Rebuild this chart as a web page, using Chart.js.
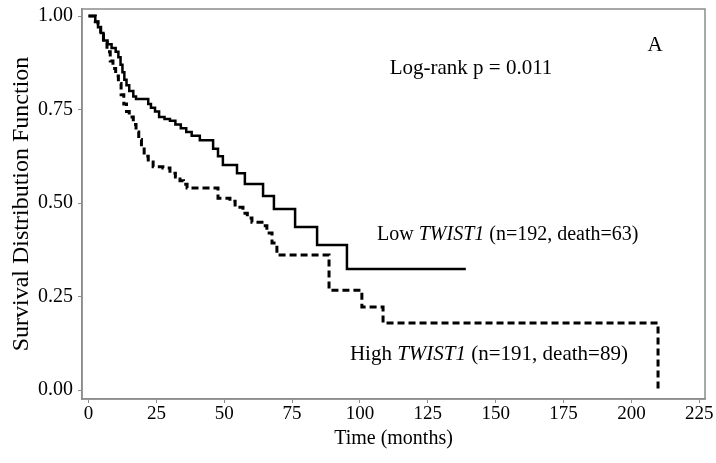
<!DOCTYPE html>
<html>
<head>
<meta charset="utf-8">
<script src="https://cdn.jsdelivr.net/npm/chart.js@4"></script>
<style>
  body { margin: 0; background: #fff; }
  canvas { display: block; }
</style>
</head>
<body>
<canvas id="km" width="716" height="463"></canvas>
<script>
// Kaplan-Meier step data (time in months, survival after the drop)
const lowTimes = [0, 2.5, 3.5, 4.5, 5.5, 7, 8.5, 10, 11, 11.8, 12.5, 13.2, 14, 15, 16.5, 17.5,
  22, 23, 24.5, 26, 28, 30, 32, 34, 36, 38, 41, 45.9, 47.7, 49.5, 54.7, 57.6, 64.3, 68.3, 76.1, 84.2, 95.2, 139];
const lowSurv = [1, 0.985, 0.97, 0.955, 0.935, 0.925, 0.915, 0.905, 0.89, 0.87, 0.85, 0.83, 0.815, 0.8, 0.785, 0.778,
  0.765, 0.755, 0.745, 0.73, 0.725, 0.72, 0.71, 0.7, 0.69, 0.68, 0.668, 0.645, 0.625, 0.602, 0.58, 0.551, 0.519, 0.484, 0.436, 0.388, 0.324, 0.324];

const highTimes = [0, 2.5, 3.5, 4.5, 5.5, 6.8, 8, 9, 10, 11, 12, 13, 14, 15, 16.5, 17.5, 18.5, 19.5, 20.5, 22, 23.8,
  27.4, 30, 32, 33.7, 35, 36.3, 47.7, 52.1, 54, 56.9, 58.5, 60.2, 63.9, 65.7, 67.6, 69.4, 88.6, 100.7, 108.5, 209.8];
const highSurv = [1, 0.985, 0.97, 0.95, 0.93, 0.905, 0.88, 0.86, 0.84, 0.82, 0.79, 0.765, 0.745, 0.73, 0.71, 0.69, 0.67, 0.65, 0.625, 0.61, 0.597,
  0.594, 0.58, 0.57, 0.56, 0.55, 0.54, 0.513, 0.505, 0.489, 0.473, 0.46, 0.449, 0.439, 0.42, 0.393, 0.361, 0.267, 0.222, 0.179, 0];

const xTicks = [0, 25, 50, 75, 100, 125, 150, 175, 200, 225];
const yTicks = [0, 0.25, 0.5, 0.75, 1];

const FONT = '"Liberation Serif", "Times New Roman", serif';
const FRAME = '#8c8c8c';

function toPoints(ts, ss) {
  return ts.map((t, i) => ({ x: t, y: ss[i] }));
}

// text drawn in data coordinates; each label is a list of [text, italic] pieces
const notes = [
  { x: 140.9, y: 0.861, size: 21, align: 'center', parts: [['Log-rank p = 0.011', false]] },
  { x: 208.7, y: 0.922, size: 21, align: 'center', parts: [['A', false]] },
  { x: 106.3, y: 0.414, size: 20, align: 'left', parts: [['Low ', false], ['TWIST1', true], [' (n=192, death=63)', false]] },
  { x: 96.3, y: 0.094, size: 21, align: 'left', parts: [['High ', false], ['TWIST1', true], [' (n=191, death=89)', false]] }
];

const framePlugin = {
  id: 'frameAndNotes',
  afterDraw(chart) {
    const { ctx, chartArea: a, scales } = chart;
    ctx.save();
    ctx.strokeStyle = FRAME;
    ctx.lineWidth = 1.5;
    ctx.strokeRect(a.left, a.top, a.right - a.left, a.bottom - a.top);

    ctx.fillStyle = '#000';
    ctx.textBaseline = 'middle';
    ctx.textAlign = 'left';
    notes.forEach(n => {
      const fontFor = it => (it ? 'italic ' : '') + n.size + 'px ' + FONT;
      const widths = n.parts.map(([s, it]) => {
        ctx.font = fontFor(it);
        return ctx.measureText(s).width;
      });
      const total = widths.reduce((p, c) => p + c, 0);
      let x = scales.x.getPixelForValue(n.x);
      if (n.align === 'center') x -= total / 2;
      const y = scales.y.getPixelForValue(n.y);
      n.parts.forEach(([s, it], i) => {
        ctx.font = fontFor(it);
        ctx.fillText(s, x, y);
        x += widths[i];
      });
    });
    ctx.restore();
  }
};

new Chart(document.getElementById('km'), {
  type: 'line',
  data: {
    datasets: [
      {
        label: 'Low TWIST1',
        data: toPoints(lowTimes, lowSurv),
        borderColor: '#000',
        borderWidth: 2.5,
        stepped: true,
        pointRadius: 0
      },
      {
        label: 'High TWIST1',
        data: toPoints(highTimes, highSurv),
        borderColor: '#000',
        borderWidth: 3,
        borderDash: [7, 4],
        stepped: true,
        pointRadius: 0
      }
    ]
  },
  options: {
    responsive: false,
    animation: false,
    devicePixelRatio: 1,
    layout: { padding: { top: 9, right: 11, left: 0, bottom: 0 } },
    plugins: {
      legend: { display: false },
      tooltip: { enabled: false }
    },
    scales: {
      x: {
        type: 'linear',
        min: -2.4,
        max: 227.1,
        afterBuildTicks: s => { s.ticks = xTicks.map(v => ({ value: v })); },
        afterFit: s => { s.height = 64; s.paddingLeft = 0; s.paddingRight = 0; },
        grid: { drawOnChartArea: false, drawTicks: true, tickLength: 4, color: FRAME, lineWidth: 1 },
        border: { display: true, color: FRAME, width: 1.5 },
        ticks: { color: '#000', font: { family: FONT, size: 19 }, padding: 0, maxRotation: 0 },
        title: {
          display: true,
          text: 'Time (months)',
          color: '#000',
          font: { family: FONT, size: 20 },
          padding: { bottom: 12 }
        }
      },
      y: {
        type: 'linear',
        min: -0.024,
        max: 1.019,
        afterBuildTicks: s => { s.ticks = yTicks.map(v => ({ value: v })); },
        afterFit: s => { s.width = 82; s.paddingTop = 0; s.paddingBottom = 0; },
        grid: { drawOnChartArea: false, drawTicks: true, tickLength: 4, color: FRAME, lineWidth: 1 },
        border: { display: true, color: FRAME, width: 1.5 },
        ticks: {
          color: '#000',
          font: { family: FONT, size: 20 },
          padding: 5,
          callback: v => v.toFixed(2)
        },
        title: {
          display: true,
          text: 'Survival Distribution Function',
          color: '#000',
          font: { family: FONT, size: 24 },
          padding: { top: 7 }
        }
      }
    }
  },
  plugins: [framePlugin]
});
</script>
</body>
</html>
